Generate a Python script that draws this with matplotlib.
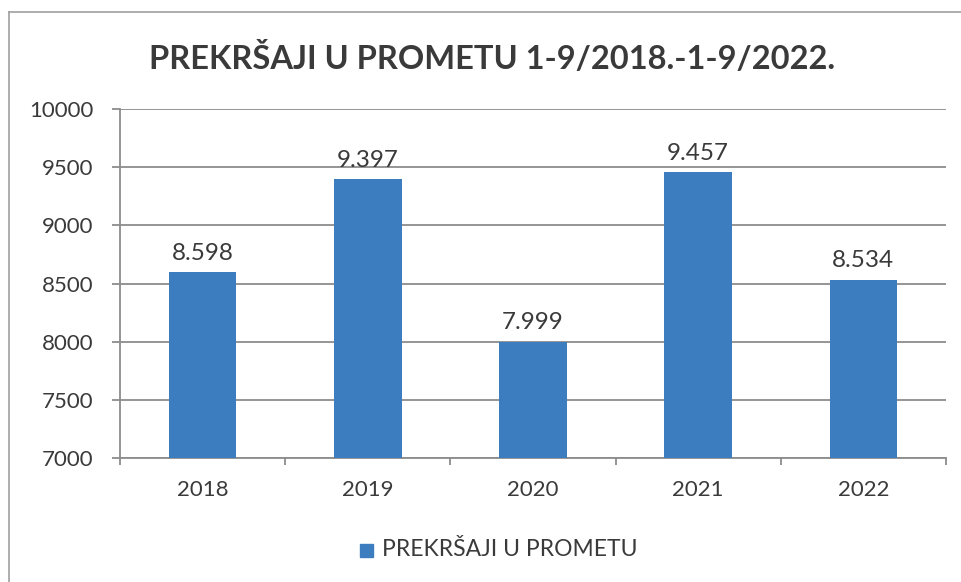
import matplotlib
matplotlib.use("Agg")
import matplotlib.pyplot as plt
from matplotlib.lines import Line2D
from matplotlib.patches import Rectangle

categories = ["2018", "2019", "2020", "2021", "2022"]
values = [8598, 9397, 7999, 9457, 8534]
yticks = [7000, 7500, 8000, 8500, 9000, 9500, 10000]
title = "PREKRŠAJI U PROMETU 1-9/2018.-1-9/2022."
series_name = "PREKRŠAJI U PROMETU"

bar_color = "#3b7dbf"
text_color = "#3a3a3a"
grid_color = "#8c8c8c"

plt.rcParams['font.family'] = ['Lato', 'DejaVu Sans']

W, H = 962, 582
fig = plt.figure(figsize=(W / 100, H / 100), dpi=100)
fig.patch.set_facecolor("white")

# outer chart frame
fig.add_artist(Line2D([9 / W, 9 / W], [0, 1 - 12 / H], transform=fig.transFigure, color="#a0a0a0", lw=1.2))
fig.add_artist(Line2D([9 / W, 1], [1 - 12 / H, 1 - 12 / H], transform=fig.transFigure, color="#a0a0a0", lw=1.2))

left, right, top, bottom = 120, 946, 109, 458
ax = fig.add_axes([left / W, 1 - bottom / H, (right - left) / W, (bottom - top) / H])
x = list(range(len(categories)))
bars = ax.bar(x, values, width=0.41, color=bar_color, zorder=3)

ax.set_xlim(-0.5, len(categories) - 0.5)
ax.set_ylim(7000, 10000)
ax.set_yticks(yticks)
ax.set_yticklabels([str(v) for v in yticks], fontsize=16, color=text_color)
ax.set_xticks(x)
ax.set_xticklabels(categories, fontsize=16, color=text_color)
ax.set_xticks([i - 0.5 for i in range(len(categories) + 1)], minor=True)
ax.tick_params(axis="x", which="major", length=0, pad=16)
ax.tick_params(axis="x", which="minor", length=5, width=1.3, color=grid_color)
ax.tick_params(axis="y", length=6, width=1.3, color=grid_color, pad=13)

ax.grid(axis="y", color=grid_color, lw=1.3, zorder=1)
for s in ["top", "right"]:
    ax.spines[s].set_visible(False)
for s in ["left", "bottom"]:
    ax.spines[s].set_color(grid_color)
    ax.spines[s].set_linewidth(1.3)

for xi, v in zip(x, values):
    lbl = f"{v:,}".replace(",", ".")
    ax.annotate(lbl, (xi, v), xytext=(0, 6), textcoords="offset points",
                ha="center", va="bottom", fontsize=17.5, color=text_color)

fig.text(492 / W, 1 - 58 / H, title, ha="center", va="center",
         fontsize=23.5, fontweight="bold", color=text_color)

# legend
fig.add_artist(Rectangle((360 / W, 1 - 557 / H), 13 / W, 13 / H, transform=fig.transFigure,
                         color=bar_color))
fig.text(382 / W, 1 - 550 / H, series_name, ha="left", va="center",
         fontsize=16.5, color=text_color)

fig.savefig("out.png", dpi=100)
